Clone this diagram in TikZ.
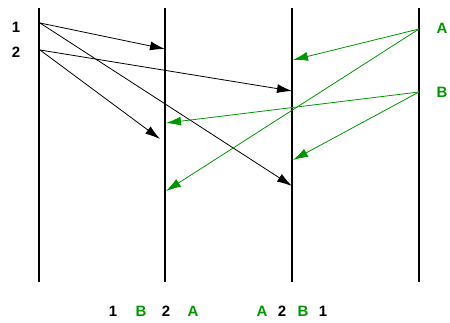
\documentclass[tikz,border=0pt]{standalone}
\usepackage{fontspec}
\setmainfont{Liberation Sans}
\usetikzlibrary{arrows.meta}
\definecolor{msggreen}{RGB}{0,150,0}

\begin{document}
\begin{tikzpicture}[
    x=1pt, y=-1pt,
    timeline/.style={line width=1.8pt},
    msg/.style={-{Latex[length=15pt,width=9pt]}, line width=0.8pt, #1},
    msg/.default=black,
    tag/.style={font=\bfseries\fontsize{15}{15}\selectfont, text=#1, inner sep=0pt},
    tag/.default=black
]
\useasboundingbox (0,0) rectangle (450,323);

% Timelines of the four processes
\foreach \n/\x in {p/39, q/165, r/292, s/419} {
    \coordinate (\n top) at (\x,8);
    \coordinate (\n bot) at (\x,282);
    \draw[timeline] (\n top) -- (\n bot);
}

% Send events
\coordinate (send1) at (40,23);
\coordinate (send2) at (40,50);
\coordinate (sendA) at (419,29);
\coordinate (sendB) at (419,92);

% Receive events
\coordinate (q1) at (165,49);
\coordinate (q2) at (160,139);
\coordinate (qA) at (166,191);
\coordinate (qB) at (166,123);
\coordinate (r1) at (292,186);
\coordinate (r2) at (292,91);
\coordinate (rA) at (293,60);
\coordinate (rB) at (293,160);

% Messages from the left process
\draw[msg] (send1) -- (q1);
\draw[msg] (send1) -- (r1);
\draw[msg] (send2) -- (r2);
\draw[msg] (send2) -- (q2);

% Messages from the right process
\draw[msg=msggreen] (sendA) -- (rA);
\draw[msg=msggreen] (sendA) -- (qA);
\draw[msg=msggreen] (sendB) -- (qB);
\draw[msg=msggreen] (sendB) -- (rB);

% Message names
\node[tag] (tag1) at (16,27) {1};
\node[tag] (tag2) at (16,52) {2};
\node[tag=msggreen] (tagA) at (442,28) {A};
\node[tag=msggreen] (tagB) at (442,92) {B};

% Delivery order at each receiver
\node[tag] (q-o1) at (113,311) {1};
\node[tag=msggreen] (q-o2) at (141,311) {B};
\node[tag] (q-o3) at (166,311) {2};
\node[tag=msggreen] (q-o4) at (193,311) {A};
\node[tag=msggreen] (r-o1) at (262,311) {A};
\node[tag] (r-o2) at (282,311) {2};
\node[tag=msggreen] (r-o3) at (303,311) {B};
\node[tag] (r-o4) at (323,311) {1};
\end{tikzpicture}
\end{document}
